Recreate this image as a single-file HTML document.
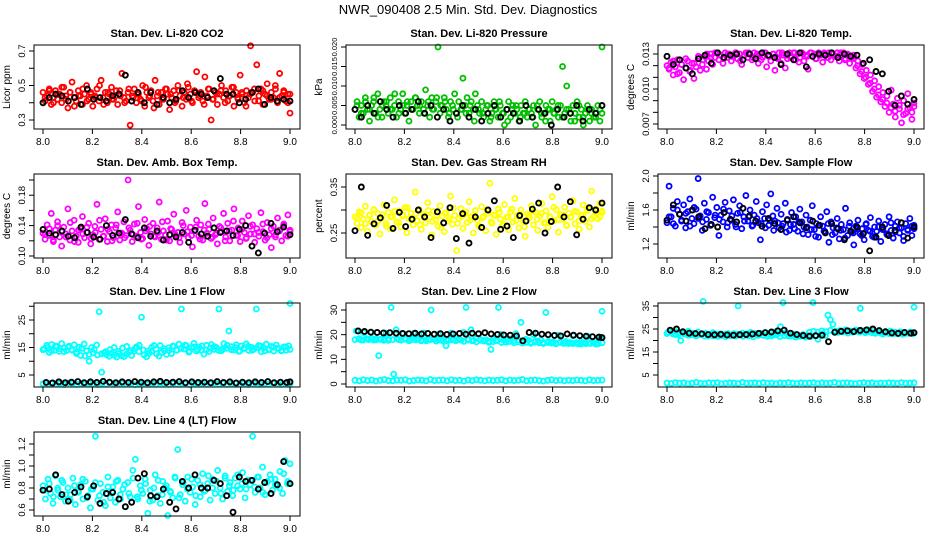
<!DOCTYPE html>
<html><head><meta charset="utf-8"><style>
html,body{margin:0;padding:0;background:#fff;}
svg{display:block;font-family:"Liberation Sans",sans-serif;}
</style></head><body>
<svg id="c" width="936" height="540" viewBox="0 0 936 540" xmlns="http://www.w3.org/2000/svg">
<text x="468" y="14" text-anchor="middle" font-size="13">NWR_090408  2.5 Min. Std. Dev. Diagnostics</text>
</svg>
<script>
const xTicks=[8.0,8.2,8.4,8.6,8.8,9.0];
const xLabels=["8.0","8.2","8.4","8.6","8.8","9.0"];
const co2Color=[0.46,0.41,0.44,0.48,0.39,0.43,0.47,0.42,0.45,0.40,0.49,0.44,0.37,0.46,0.52,0.43,0.41,0.47,0.44,0.39,0.45,0.50,0.42,0.46,0.38,0.44,0.48,0.41,0.53,0.43,0.46,0.40,0.45,0.49,0.42,0.44,0.39,0.47,0.57,0.43,0.41,0.46,0.27,0.44,0.48,0.40,0.45,0.42,0.50,0.38,0.46,0.43,0.47,0.41,0.53,0.44,0.39,0.46,0.42,0.48,0.45,0.36,0.43,0.47,0.41,0.50,0.44,0.38,0.46,0.42,0.49,0.45,0.40,0.47,0.58,0.43,0.46,0.41,0.55,0.44,0.48,0.30,0.42,0.46,0.39,0.45,0.50,0.43,0.47,0.41,0.44,0.49,0.38,0.46,0.42,0.56,0.45,0.40,0.47,0.43,0.73,0.46,0.41,0.62,0.44,0.48,0.39,0.45,0.51,0.42,0.46,0.43,0.48,0.40,0.57,0.44,0.47,0.41,0.45,0.34];
const co2ColorB=[0.43,0.47,0.40,0.45,0.49,0.42,0.46,0.38,0.44,0.48,0.41,0.45,0.43,0.50,0.39,0.46,0.42,0.47,0.44,0.40,0.48,0.43,0.45,0.41,0.49,0.44,0.37,0.46,0.42,0.48,0.45,0.40,0.47,0.43,0.51,0.41,0.46,0.44,0.39,0.48,0.42,0.45,0.47,0.40,0.44,0.49,0.43,0.46,0.38,0.45,0.48,0.41,0.47,0.44,0.42,0.50,0.43,0.46,0.40,0.45];
const co2Black=[0.40,0.43,0.45,0.44,0.41,0.43,0.39,0.48,0.42,0.43,0.41,0.44,0.45,0.56,0.41,0.46,0.40,0.46,0.39,0.43,0.40,0.42,0.47,0.43,0.46,0.45,0.43,0.47,0.54,0.45,0.45,0.40,0.42,0.46,0.48,0.39,0.43,0.41,0.42,0.41];
const presColor=[0.004,0.006,0.002,0.005,0.003,0.007,0.004,0.001,0.005,0.006,0.003,0.008,0.004,0.002,0.006,0.005,0.003,0.007,0.004,0.005,0.002,0.006,0.004,0.008,0.003,0.005,0.001,0.006,0.004,0.007,0.005,0.003,0.006,0.004,0.009,0.005,0.002,0.007,0.004,0.006,0.020,0.003,0.005,0.007,0.004,0.002,0.006,0.005,0.008,0.003,0.006,0.004,0.012,0.005,0.007,0.003,0.006,0.004,0.008,0.005,0.003,0.006,0.002,0.004,0.005,0.001,0.003,0.006,0.004,0.002,0.005,0.003,0.000,0.004,0.006,0.002,0.005,0.003,0.004,0.001,0.005,0.003,0.006,0.002,0.004,0.003,0.005,0.000,0.004,0.006,0.002,0.003,0.005,0.004,0.001,0.006,0.003,0.004,0.002,0.005,0.015,0.003,0.010,0.004,0.001,0.005,0.003,0.006,0.002,0.004,0.000,0.003,0.005,0.001,0.004,0.002,0.003,0.005,0.001,0.020];
const presColorB=[0.005,0.003,0.006,0.004,0.007,0.002,0.005,0.006,0.004,0.008,0.003,0.005,0.006,0.004,0.007,0.005,0.003,0.006,0.004,0.007,0.005,0.006,0.003,0.004,0.002,0.004,0.003,0.005,0.001,0.004,0.003,0.005,0.002,0.004,0.006,0.003,0.001,0.004,0.005,0.002,0.003,0.004,0.002,0.005,0.003,0.001,0.004,0.003,0.005,0.002,0.004,0.003,0.001,0.005,0.002,0.004,0.003,0.002,0.004,0.003];
const presBlack=[0.004,0.002,0.005,0.003,0.006,0.004,0.002,0.005,0.003,0.004,0.006,0.003,0.005,0.002,0.004,0.001,0.003,0.005,0.002,0.004,0.001,0.003,0.005,0.002,0.004,0.003,0.001,0.005,0.002,0.004,0.003,0.000,0.004,0.002,0.003,0.005,0.001,0.004,0.003,0.005];
const tempColor=[0.0120,0.0117,0.0123,0.0112,0.0119,0.0125,0.0114,0.0121,0.0108,0.0118,0.0124,0.0115,0.0122,0.0109,0.0119,0.0126,0.0116,0.0121,0.0128,0.0117,0.0124,0.0130,0.0121,0.0127,0.0131,0.0125,0.0129,0.0122,0.0131,0.0127,0.0130,0.0124,0.0128,0.0131,0.0126,0.0130,0.0121,0.0129,0.0131,0.0127,0.0130,0.0125,0.0131,0.0128,0.0122,0.0130,0.0127,0.0131,0.0119,0.0128,0.0124,0.0130,0.0116,0.0127,0.0131,0.0122,0.0129,0.0118,0.0126,0.0131,0.0128,0.0131,0.0125,0.0130,0.0127,0.0131,0.0124,0.0129,0.0117,0.0131,0.0128,0.0130,0.0126,0.0131,0.0129,0.0123,0.0130,0.0127,0.0131,0.0125,0.0130,0.0128,0.0131,0.0124,0.0129,0.0131,0.0126,0.0130,0.0122,0.0127,0.0129,0.0118,0.0124,0.0113,0.0121,0.0109,0.0116,0.0104,0.0112,0.0098,0.0107,0.0093,0.0102,0.0089,0.0097,0.0085,0.0094,0.0080,0.0099,0.0087,0.0076,0.0092,0.0083,0.0071,0.0090,0.0079,0.0096,0.0084,0.0074,0.0088];
const tempColorB=[0.0118,0.0124,0.0113,0.0121,0.0126,0.0116,0.0122,0.0128,0.0125,0.0130,0.0127,0.0131,0.0129,0.0126,0.0130,0.0128,0.0131,0.0124,0.0129,0.0131,0.0127,0.0130,0.0125,0.0131,0.0128,0.0130,0.0126,0.0131,0.0129,0.0127,0.0131,0.0123,0.0130,0.0128,0.0131,0.0126,0.0129,0.0131,0.0127,0.0130,0.0128,0.0131,0.0125,0.0129,0.0126,0.0120,0.0115,0.0110,0.0105,0.0100,0.0095,0.0091,0.0088,0.0084,0.0081,0.0086,0.0078,0.0083,0.0080,0.0085];
const tempBlack=[0.0128,0.0121,0.0125,0.0118,0.0113,0.0126,0.0129,0.0122,0.0131,0.0127,0.0129,0.0130,0.0125,0.0130,0.0126,0.0131,0.0129,0.0127,0.0121,0.0130,0.0125,0.0131,0.0119,0.0128,0.0130,0.0129,0.0131,0.0127,0.0130,0.0128,0.0129,0.0122,0.0125,0.0115,0.0113,0.0098,0.0086,0.0094,0.0087,0.0091];
const boxColor=[0.130,0.122,0.141,0.127,0.156,0.119,0.134,0.145,0.125,0.113,0.138,0.129,0.162,0.121,0.133,0.147,0.126,0.118,0.136,0.152,0.124,0.131,0.143,0.116,0.128,0.139,0.168,0.122,0.135,0.126,0.149,0.119,0.132,0.141,0.124,0.137,0.158,0.121,0.130,0.145,0.127,0.200,0.134,0.119,0.142,0.126,0.165,0.131,0.123,0.148,0.136,0.114,0.129,0.143,0.125,0.137,0.171,0.122,0.133,0.128,0.146,0.120,0.135,0.155,0.127,0.131,0.118,0.144,0.129,0.160,0.124,0.138,0.112,0.133,0.147,0.126,0.141,0.121,0.169,0.130,0.135,0.123,0.150,0.128,0.116,0.139,0.132,0.156,0.125,0.143,0.120,0.134,0.162,0.127,0.137,0.119,0.146,0.131,0.124,0.153,0.129,0.141,0.118,0.136,0.126,0.157,0.132,0.121,0.144,0.128,0.111,0.139,0.125,0.150,0.133,0.120,0.142,0.127,0.154,0.134];
const boxColorB=[0.128,0.136,0.121,0.140,0.132,0.125,0.144,0.119,0.134,0.129,0.138,0.123,0.131,0.147,0.126,0.135,0.120,0.141,0.130,0.124,0.137,0.128,0.143,0.122,0.133,0.139,0.126,0.131,0.145,0.121,0.136,0.129,0.124,0.140,0.132,0.127,0.138,0.122,0.134,0.142,0.125,0.130,0.137,0.120,0.133,0.146,0.127,0.135,0.123,0.139,0.129,0.131,0.142,0.124,0.136,0.128,0.134,0.140,0.126,0.132];
const boxBlack=[0.135,0.130,0.128,0.133,0.126,0.124,0.138,0.131,0.125,0.122,0.140,0.127,0.130,0.148,0.129,0.124,0.137,0.126,0.133,0.121,0.128,0.125,0.131,0.118,0.134,0.129,0.126,0.137,0.131,0.133,0.127,0.135,0.140,0.113,0.104,0.130,0.143,0.132,0.138,0.128];
const rhColor=[0.285,0.271,0.296,0.262,0.280,0.308,0.254,0.289,0.275,0.300,0.267,0.292,0.248,0.283,0.311,0.270,0.295,0.259,0.286,0.322,0.274,0.298,0.263,0.287,0.305,0.251,0.281,0.293,0.268,0.339,0.277,0.301,0.258,0.290,0.272,0.316,0.284,0.246,0.297,0.279,0.265,0.309,0.287,0.253,0.294,0.276,0.330,0.269,0.288,0.212,0.282,0.303,0.260,0.291,0.273,0.318,0.285,0.250,0.299,0.278,0.264,0.307,0.286,0.255,0.293,0.358,0.271,0.289,0.247,0.302,0.280,0.266,0.312,0.284,0.257,0.296,0.274,0.325,0.288,0.261,0.300,0.276,0.243,0.291,0.283,0.309,0.268,0.295,0.256,0.287,0.314,0.272,0.298,0.262,0.284,0.329,0.277,0.301,0.252,0.290,0.279,0.306,0.266,0.293,0.285,0.320,0.270,0.296,0.258,0.288,0.311,0.275,0.299,0.263,0.341,0.286,0.302,0.281,0.315,0.294];
const rhColorB=[0.282,0.294,0.270,0.288,0.301,0.276,0.290,0.265,0.285,0.297,0.273,0.289,0.305,0.279,0.292,0.268,0.284,0.299,0.275,0.287,0.262,0.293,0.281,0.304,0.271,0.286,0.296,0.278,0.290,0.266,0.283,0.300,0.274,0.288,0.295,0.269,0.285,0.302,0.277,0.291,0.264,0.287,0.298,0.280,0.293,0.272,0.286,0.306,0.279,0.290,0.267,0.284,0.297,0.276,0.289,0.303,0.281,0.294,0.285,0.298];
const rhBlack=[0.255,0.350,0.245,0.270,0.283,0.310,0.260,0.295,0.264,0.280,0.300,0.285,0.240,0.296,0.272,0.305,0.238,0.292,0.228,0.285,0.262,0.300,0.320,0.258,0.265,0.240,0.288,0.276,0.302,0.315,0.250,0.275,0.350,0.285,0.318,0.246,0.280,0.305,0.300,0.315];
const flowColor=[1.45,1.88,1.52,1.62,1.41,1.70,1.55,1.47,1.66,1.39,1.58,1.73,1.50,1.44,1.61,1.97,1.53,1.36,1.68,1.49,1.57,1.42,1.75,1.51,1.63,1.30,1.54,1.46,1.69,1.40,1.59,1.48,1.72,1.43,1.56,1.65,1.38,1.52,1.77,1.47,1.60,1.41,1.54,1.70,1.45,1.25,1.58,1.50,1.66,1.42,1.79,1.53,1.47,1.62,1.39,1.55,1.44,1.68,1.49,1.36,1.57,1.43,1.52,1.35,1.61,1.46,1.40,1.54,1.31,1.48,1.65,1.37,1.44,1.28,1.52,1.41,1.35,1.58,1.22,1.46,1.39,1.33,1.50,1.26,1.43,1.37,1.62,1.30,1.45,1.34,1.19,1.41,1.48,1.32,1.38,1.25,1.44,1.36,1.51,1.29,1.40,1.35,1.47,1.23,1.38,1.43,1.31,1.52,1.36,1.27,1.41,1.46,1.33,1.39,1.24,1.44,1.37,1.50,1.30,1.42];
const flowColorB=[1.52,1.44,1.60,1.48,1.56,1.41,1.63,1.50,1.46,1.58,1.43,1.54,1.49,1.61,1.45,1.53,1.40,1.57,1.47,1.52,1.42,1.50,1.44,1.39,1.48,1.36,1.45,1.41,1.34,1.43,1.38,1.46,1.32,1.40,1.37,1.29,1.42,1.35,1.44,1.31,1.39,1.36,1.27,1.41,1.33,1.38,1.30,1.43,1.35,1.28,1.40,1.37,1.32,1.45,1.34,1.39,1.29,1.36,1.41,1.38];
const flowBlack=[1.48,1.66,1.55,1.47,1.60,1.52,1.38,1.43,1.40,1.57,1.49,1.46,1.62,1.53,1.47,1.41,1.50,1.44,1.37,1.48,1.52,1.45,1.39,1.47,1.42,1.33,1.44,1.38,1.25,1.35,1.40,1.32,1.12,1.28,1.40,1.30,1.36,1.45,1.27,1.40];
const line1Color=[14.5,15.8,13.2,16.1,14.0,15.3,13.6,16.4,14.8,13.9,15.5,14.2,16.0,13.4,15.1,14.7,16.3,13.8,10.0,15.0,14.3,15.9,28.0,6.0,13.1,12.4,11.8,13.0,12.2,11.5,12.8,12.0,11.7,12.6,13.3,12.1,13.7,15.2,13.5,26.0,12.3,11.6,12.9,13.6,15.7,12.7,11.9,13.2,14.6,12.5,13.9,12.8,15.4,14.1,16.2,29.0,14.4,15.6,13.3,14.9,16.5,13.7,15.2,14.0,12.6,15.8,13.5,16.1,14.3,15.0,29.0,13.8,16.4,14.7,21.0,15.3,14.1,16.0,13.6,15.5,14.8,16.3,13.9,15.1,14.4,29.0,15.7,13.4,14.9,16.2,14.2,15.4,13.7,15.9,14.6,13.8,15.2,14.0,15.6,31.0];
const line1ColorB=[14.2,15.0,13.8,15.6,14.5,13.5,15.2,14.0,12.8,12.1,11.9,12.5,13.0,12.3,12.7,13.5,14.2,15.0,13.6,14.8,15.4,13.9,14.6,15.8,14.1,13.7,15.1,14.4,15.7,13.8,14.9,15.5,14.0,14.7,15.9,13.6,15.2,14.3,15.6,14.1,14.8,15.3,13.9,14.5,15.8,14.2,15.0,13.7,14.6,15.4,14.0,14.9,15.5,13.8,14.4,15.1,14.7,13.9,15.2,14.3];
const line1Low=[1.8,1.6,2.0,1.7,1.9,1.5,2.1,1.8,1.6,1.9,1.7,2.0,1.8,1.5,1.9,1.7,2.1,1.6,1.8,2.0,1.7,1.9,1.5,1.8,2.0,1.6,1.9,1.7,2.1,1.8,1.6,1.9,1.7,2.0,1.8,1.5,1.9,1.7,2.0,1.6,1.8,2.1,1.7,1.9,1.6,1.8,2.0,1.7,1.9,1.5,1.8,2.0,1.6,1.9,1.7,2.1,1.8,1.6,1.9,1.8];
const line1Black=[2.3,2.1,2.5,2.2,2.4,2.6,2.2,2.5,2.3,2.7,2.4,2.2,2.5,2.3,2.6,2.4,2.2,2.5,2.7,2.3,2.4,2.6,2.2,2.5,2.3,2.4,2.2,2.6,2.3,2.5,2.1,2.4,2.2,2.5,2.3,2.6,2.2,2.4,2.3,2.5];
const line2Color=[21.5,18.2,17.9,20.8,18.4,18.0,21.0,17.8,18.3,11.5,18.1,17.7,20.6,18.4,31.0,4.0,22.0,18.0,17.8,20.4,18.2,17.6,18.1,20.5,17.9,18.3,17.5,20.7,18.0,17.8,30.0,18.2,17.4,20.3,17.9,18.1,15.5,17.7,20.6,18.0,17.6,18.3,17.8,20.9,31.0,18.1,22.0,17.7,18.4,20.2,17.9,17.5,18.0,17.3,14.0,18.2,17.6,31.0,20.1,17.8,18.0,17.2,18.3,17.6,20.4,17.9,25.0,17.4,18.1,17.7,16.9,20.0,17.5,17.1,17.8,16.8,29.0,17.3,16.7,17.0,16.6,19.8,16.9,16.5,17.2,16.4,16.8,19.5,16.6,16.3,17.0,16.7,16.4,19.2,16.5,16.8,16.2,16.6,19.0,29.5];
const line2ColorB=[18.0,18.4,17.8,18.2,18.5,17.9,18.1,18.3,17.7,18.0,18.4,17.8,18.2,17.6,18.1,18.3,17.9,17.5,18.0,18.2,17.8,17.4,18.1,17.9,17.6,18.0,17.3,17.8,17.5,17.1,17.7,17.4,16.9,17.2,17.6,16.8,17.0,17.3,16.7,17.1,16.6,16.9,16.5,17.0,16.7,16.4,16.8,16.6,16.3,16.9,16.5,16.7,16.4,16.8,16.2,16.6,16.5,16.9,16.3,16.7];
const line2Low=[1.5,1.3,1.7,1.4,1.6,1.2,1.5,1.8,1.4,1.3,1.6,1.5,1.7,1.2,1.4,1.6,1.5,1.3,1.8,1.4,1.5,1.6,1.3,1.7,1.4,1.5,1.2,1.6,1.4,1.7,1.5,1.3,1.6,1.4,1.5,1.7,1.3,1.6,1.4,1.5,1.8,1.3,1.5,1.6,1.4,1.2,1.5,1.7,1.4,1.6,1.3,1.5,1.4,1.6,1.5,1.3,1.7,1.4,1.5,1.6];
const line2Black=[21.5,21.3,21.0,20.9,20.7,20.8,20.6,20.5,20.4,20.6,20.3,20.5,20.2,20.4,20.1,20.3,20.5,20.2,20.6,20.4,20.8,20.3,20.1,19.9,19.8,19.5,17.5,20.9,20.6,20.2,20.0,19.7,19.5,20.3,19.8,19.6,19.4,19.2,19.0,18.8];
const line3Color=[23.5,24.2,22.8,23.9,22.5,20.0,23.6,22.9,24.0,22.4,23.2,22.0,23.7,22.6,37.0,23.1,21.9,22.7,23.4,22.2,21.8,22.9,22.3,21.7,23.0,22.1,22.6,21.9,35.0,22.4,21.8,22.8,22.0,22.5,21.6,22.9,22.2,23.1,22.4,23.5,22.7,23.3,22.6,23.8,22.9,26.0,36.5,23.4,22.5,21.9,22.8,21.5,22.3,21.8,22.6,21.4,22.1,21.7,36.5,22.0,20.5,22.4,23.0,22.2,31.0,29.0,27.0,24.0,23.5,24.3,23.8,24.6,23.2,24.1,23.6,24.5,23.9,34.0,24.2,23.4,24.7,23.7,24.4,23.1,24.0,23.5,22.8,23.9,23.3,24.1,22.9,23.6,23.0,23.8,22.7,23.4,23.1,23.7,22.9,34.5];
const line3ColorB=[23.0,23.8,22.6,23.4,22.9,22.3,22.7,22.1,22.5,21.9,22.4,22.0,22.6,22.2,22.8,22.4,23.0,22.7,23.2,22.9,23.5,23.1,22.6,22.2,21.8,22.0,22.4,21.7,22.1,21.9,22.3,21.6,22.0,21.8,23.5,24.0,23.6,24.2,23.8,24.4,23.5,24.1,23.7,24.3,23.9,24.5,23.6,24.0,23.8,23.4,23.9,23.2,23.6,23.0,23.5,22.9,23.3,23.1,23.4,23.2];
const line3Low=[1.5,1.3,1.7,1.4,1.6,1.2,1.5,1.8,1.4,1.3,1.6,1.5,1.7,1.2,1.4,1.6,1.5,1.3,1.8,1.4,1.5,1.6,1.3,1.7,1.4,1.5,1.2,1.6,1.4,1.7,1.5,1.3,1.6,1.4,1.5,1.7,1.3,1.6,1.4,1.5,1.8,1.3,1.5,1.6,1.4,1.2,1.5,1.7,1.4,1.6,1.3,1.5,1.4,1.6,1.5,1.3,1.7,1.4,1.5,1.6];
const line3Black=[24.5,25.0,23.8,23.2,23.0,22.9,22.6,22.5,22.7,22.4,22.3,22.5,22.6,22.8,23.1,23.4,23.7,24.2,24.5,23.2,22.6,22.2,21.9,22.1,22.3,19.5,23.6,24.0,24.2,23.9,24.4,24.6,25.0,24.3,23.8,23.3,23.1,23.5,23.2,23.4];
const line4Color=[0.82,0.70,0.88,0.75,0.66,0.91,0.78,0.72,0.85,0.68,0.80,0.74,0.89,0.65,0.77,0.83,0.70,0.86,0.73,0.62,0.79,1.27,0.69,0.84,0.76,0.64,0.90,0.71,0.81,0.67,0.87,0.74,0.79,0.63,0.85,0.72,0.96,1.06,0.70,0.82,0.75,0.88,0.57,0.78,0.69,0.92,0.73,0.66,0.86,0.80,0.55,0.77,0.71,0.89,1.15,0.74,0.83,0.68,0.90,0.76,0.81,0.65,0.87,0.72,0.93,0.78,0.84,0.69,0.88,0.75,0.96,0.80,0.70,0.91,0.77,0.85,0.73,0.89,0.82,0.79,0.94,0.71,0.87,0.83,1.27,0.76,0.90,0.80,0.99,0.74,0.86,0.92,0.78,0.88,0.82,0.95,0.75,1.05,0.84,1.02];
const line4ColorB=[0.78,0.84,0.72,0.80,0.87,0.74,0.69,0.82,0.76,0.88,0.71,0.79,0.85,0.73,0.67,0.81,0.77,0.86,0.70,0.83,0.75,0.89,0.72,0.78,0.84,0.68,0.80,0.87,0.74,0.82,0.76,0.90,0.71,0.85,0.79,0.88,0.73,0.83,0.77,0.91,0.80,0.86,0.75,0.89,0.82,0.78,0.92,0.84,0.79,0.87,0.81,0.90,0.76,0.85,0.88,0.83,0.80,0.93,0.86,0.84];
const line4Black=[0.78,0.79,0.92,0.74,0.68,0.76,0.81,0.72,0.82,0.66,0.75,0.76,0.70,0.63,0.67,0.89,0.93,0.73,0.72,0.79,0.67,0.61,0.86,0.80,0.92,0.80,0.80,0.87,0.84,0.73,0.58,0.90,0.86,0.87,0.79,0.85,0.75,0.83,1.04,0.84];

const panels=[
 {name:"co2",title:"Stan. Dev. Li-820 CO2",yt:"Licor ppm",col:0,row:0,ref:[0.3,120,0.7,51],ticks:[0.3,0.4,0.5,0.6,0.7],labels:{"0.3":"0.3","0.5":"0.5","0.7":"0.7"},series:[[co2Color,"#ff0000"],[co2ColorB,"#ff0000"],[co2Black,"#000"]]},
 {name:"pressure",title:"Stan. Dev. Li-820 Pressure",yt:"kPa",col:1,row:0,ref:[0,125,0.02,47],ticks:[0,0.005,0.01,0.015,0.02],labels:{"0":"0.000","0.005":"0.005","0.01":"0.010","0.015":"0.015","0.02":"0.020"},lfs:7.5,series:[[presColor,"#00c000"],[presColorB,"#00c000"],[presBlack,"#000"]]},
 {name:"temp",title:"Stan. Dev. Li-820 Temp.",yt:"degrees C",col:2,row:0,ref:[0.007,124,0.013,54],ticks:[0.007,0.008,0.009,0.010,0.011,0.012,0.013],labels:{"0.007":"0.007","0.01":"0.010","0.013":"0.013"},series:[[tempColor,"#ff00ff"],[tempColorB,"#ff00ff"],[tempBlack,"#000"]]},
 {name:"box-temp",title:"Stan. Dev. Amb. Box Temp.",yt:"degrees C",col:0,row:1,ref:[0.10,256,0.20,180],ticks:[0.10,0.12,0.14,0.16,0.18,0.20],labels:{"0.1":"0.10","0.14":"0.14","0.18":"0.18"},series:[[boxColor,"#ff00ff"],[boxColorB,"#ff00ff"],[boxBlack,"#000"]]},
 {name:"gas-rh",title:"Stan. Dev. Gas Stream RH",yt:"percent",col:1,row:1,ref:[0.25,233,0.35,187],ticks:[0.25,0.30,0.35],labels:{"0.25":"0.25","0.35":"0.35"},series:[[rhColor,"#ffff00"],[rhColorB,"#ffff00"],[rhBlack,"#000"]]},
 {name:"sample-flow",title:"Stan. Dev. Sample Flow",yt:"ml/min",col:2,row:1,ref:[1.2,244,2.0,176],ticks:[1.2,1.4,1.6,1.8,2.0],labels:{"1.2":"1.2","1.6":"1.6","2":"2.0"},series:[[flowColor,"#0000ff"],[flowColorB,"#0000ff"],[flowBlack,"#000"]]},
 {name:"line1",title:"Stan. Dev. Line 1 Flow",yt:"ml/min",col:0,row:2,ref:[5,375,25,320],ticks:[5,10,15,20,25,30],labels:{"5":"5","15":"15","25":"25"},series:[[line1Low,"#00ffff"],[line1Color,"#00ffff"],[line1ColorB,"#00ffff"],[line1Black,"#000"]]},
 {name:"line2",title:"Stan. Dev. Line 2 Flow",yt:"ml/min",col:1,row:2,ref:[0,384,30,310],ticks:[0,5,10,15,20,25,30],labels:{"0":"0","10":"10","20":"20","30":"30"},series:[[line2Low,"#00ffff"],[line2Color,"#00ffff"],[line2ColorB,"#00ffff"],[line2Black,"#000"]]},
 {name:"line3",title:"Stan. Dev. Line 3 Flow",yt:"ml/min",col:2,row:2,ref:[5,375,35,306],ticks:[5,10,15,20,25,30,35],labels:{"5":"5","15":"15","25":"25","35":"35"},series:[[line3Low,"#00ffff"],[line3Color,"#00ffff"],[line3ColorB,"#00ffff"],[line3Black,"#000"]]},
 {name:"line4",title:"Stan. Dev. Line 4 (LT) Flow",yt:"ml/min",col:0,row:3,ref:[0.6,510,1.2,444],ticks:[0.6,0.7,0.8,0.9,1.0,1.1,1.2],labels:{"0.6":"0.6","0.8":"0.8","1":"1.0","1.2":"1.2"},series:[[line4Color,"#00ffff"],[line4ColorB,"#00ffff"],[line4Black,"#000"]]}
];
const NS="http://www.w3.org/2000/svg";
const svg=document.getElementById('c');
function mk(tag,attrs,parent){const e=document.createElementNS(NS,tag);for(const k in attrs)e.setAttribute(k,attrs[k]);parent.appendChild(e);return e;}
const rowTop=[45,174,303,432];
panels.forEach(p=>{
 const g=mk('g',{},svg);
 
 
 const off=p.col*312;
 const L=34+off,R=300+off,T=rowTop[p.row],B=T+84;
 const x=v=>43+off+(v-8)*247;
 const y=v=>p.ref[1]+(v-p.ref[0])*(p.ref[3]-p.ref[1])/(p.ref[2]-p.ref[0]);
 const t=mk('text',{x:(L+R)/2,y:T-8,'text-anchor':'middle','font-size':'11','font-weight':'bold'},g);
 t.textContent=p.title;
 
 
 const pts=mk('g',{fill:'none'},g);
 
 
 p.series.forEach(([arr,col],si)=>{
  const n=arr.length;
  const sh=si%2?0.5:0;
  arr.forEach((v,i)=>{
   const c=mk('circle',{cx:x(8+Math.min(1,(i+sh)/(n-1))),cy:y(v),r:2.5,stroke:col,'stroke-width':col==="#000"?1.9:1.8},pts);
   
   
  });
 });
 const box=mk('rect',{x:L,y:T,width:R-L,height:B-T,fill:'none',stroke:'#000','stroke-width':1},g);
 
 
 const xa=mk('g',{},g);
 
 
 mk('line',{x1:x(8),x2:x(9),y1:B,y2:B,stroke:'#000'},xa);
 xTicks.forEach((v,i)=>{
  mk('line',{x1:x(v),x2:x(v),y1:B,y2:B+5,stroke:'#000'},xa);
  const tl=mk('text',{x:x(v),y:B+16,'text-anchor':'middle','font-size':'10'},xa);
  tl.textContent=xLabels[i];
  
  
 });
 const ya=mk('g',{},g);
 
 
 mk('line',{x1:L,x2:L,y1:y(p.ticks[0]),y2:y(p.ticks[p.ticks.length-1]),stroke:'#000'},ya);
 p.ticks.forEach(v=>{
  mk('line',{x1:L-5,x2:L,y1:y(v),y2:y(v),stroke:'#000'},ya);
  const key=String(+v.toFixed(4));
  if(p.labels[key]!==undefined){
   const tl=mk('text',{x:L-9,y:y(v),'text-anchor':'middle','font-size':String(p.lfs||9.5),transform:`rotate(-90 ${L-9} ${y(v)})`},ya);
   tl.textContent=p.labels[key];
   
   
  }
 });
 const yt=mk('text',{x:L-24,y:(T+B)/2,'text-anchor':'middle','font-size':'10',transform:`rotate(-90 ${L-24} ${(T+B)/2})`},g);
 yt.textContent=p.yt;
 
 
});
</script>
</body></html>
